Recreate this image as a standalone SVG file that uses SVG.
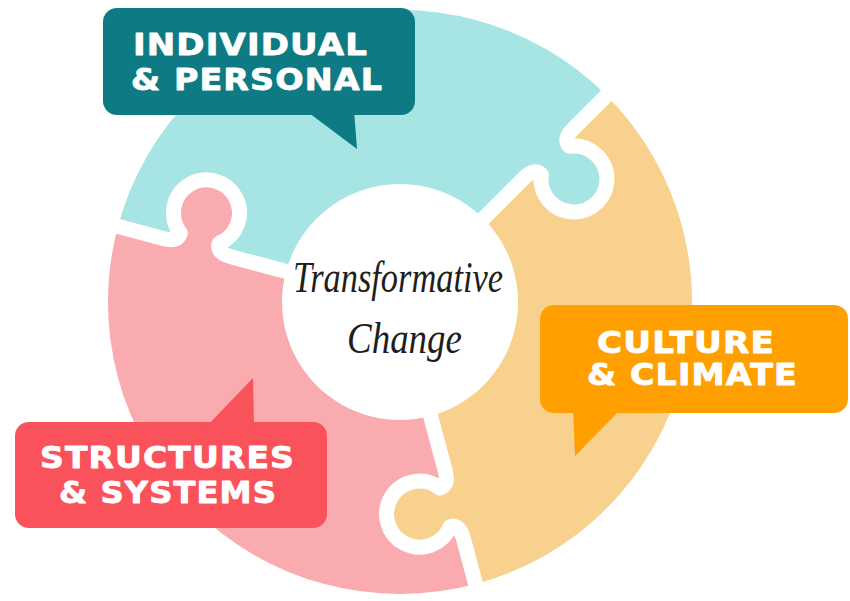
<svg xmlns="http://www.w3.org/2000/svg" width="850" height="601" viewBox="0 0 850 601">
  <style>
    .seam { fill: none; stroke: #ffffff; stroke-width: 15; stroke-linecap: round; stroke-linejoin: round; }
    .label { font-family: "DejaVu Sans", "Liberation Sans", sans-serif; font-weight: bold; font-size: 30px; letter-spacing: 1px; fill: #ffffff; stroke: #ffffff; stroke-width: 0.8; stroke-linejoin: round; }
    .script { font-family: "Liberation Serif", "DejaVu Serif", serif; font-style: italic; font-size: 44px; fill: #1e1e1e; }
  </style>
  <defs>
    <!-- One puzzle piece of the ring, drawn in a frame centred on the ring.
         It spans -120deg..0deg: a tab on its 0deg edge, a socket on its -120deg edge. -->
    <path id="piece" d="M-146,-252.88 A292,292 0 0 1 292,0 L245,0 Q230,0 230,9.75 A33,33 0 1 1 190,9.75 Q190,0 175,0 L118,0 A118,118 0 0 0 -59,-102.19 L-87.5,-151.55 Q-95,-164.54 -86.56,-169.42 A33,33 0 1 0 -106.56,-204.06 Q-115,-199.19 -122.5,-212.18 L-146,-252.88 Z"/>
    <!-- Centre line of the white gap between two pieces (along the 0deg edge). -->
    <path id="seam-line" d="M100,0 L175,0 Q190,0 190,9.75 A33,33 0 1 0 230,9.75 Q230,0 245,0 L305,0"/>
  </defs>

  <!-- ring pieces -->
  <g id="piece-individual" transform="translate(400,302) rotate(315)">
    <use href="#piece" fill="#A7E4E4"/>
  </g>
  <g id="piece-culture" transform="translate(400,302) rotate(75)">
    <use href="#piece" fill="#F8D18E"/>
  </g>
  <g id="piece-structures" transform="translate(400,302) rotate(195)">
    <use href="#piece" fill="#F9ABB0"/>
  </g>

  <!-- white gaps between the pieces -->
  <g id="seams" class="seam">
    <use href="#seam-line" transform="translate(400,302) rotate(75)"/>
    <use href="#seam-line" transform="translate(400,302) rotate(195)"/>
    <use href="#seam-line" transform="translate(400,302) rotate(315)"/>
  </g>

  <!-- centre title -->
  <g id="centre">
    <text class="script" x="293" y="292" textLength="210" lengthAdjust="spacingAndGlyphs">Transformative</text>
    <text class="script" x="347" y="353" textLength="115" lengthAdjust="spacingAndGlyphs">Change</text>
  </g>

  <!-- callouts -->
  <g id="callout-individual" fill="#0E7A83">
    <rect x="103" y="8" width="312" height="107" rx="14"/>
    <polygon points="305,110 357,149 354,110"/>
    <text class="label" x="133" y="55" textLength="235" lengthAdjust="spacingAndGlyphs">INDIVIDUAL</text>
    <text class="label" x="131" y="90" textLength="252" lengthAdjust="spacingAndGlyphs">&amp; PERSONAL</text>
  </g>

  <g id="callout-culture" fill="#FFA000">
    <rect x="540" y="305" width="308" height="108" rx="14"/>
    <polygon points="573,408 575,456 622,408"/>
    <text class="label" x="597" y="353" textLength="178" lengthAdjust="spacingAndGlyphs">CULTURE</text>
    <text class="label" x="587" y="385" textLength="211" lengthAdjust="spacingAndGlyphs">&amp; CLIMATE</text>
  </g>

  <g id="callout-structures" fill="#F9525B">
    <rect x="15" y="422" width="312" height="106" rx="14"/>
    <polygon points="206,427 253,378 254,427"/>
    <text class="label" x="40" y="468" textLength="255" lengthAdjust="spacingAndGlyphs">STRUCTURES</text>
    <text class="label" x="59" y="503" textLength="218" lengthAdjust="spacingAndGlyphs">&amp; SYSTEMS</text>
  </g>
</svg>
